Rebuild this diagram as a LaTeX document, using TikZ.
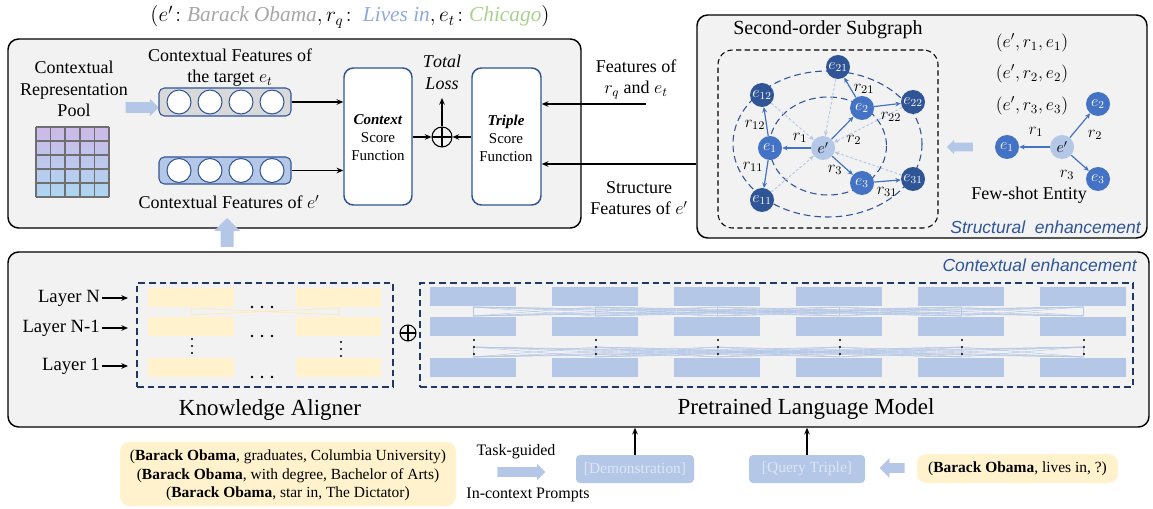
\documentclass[tikz,border=0pt]{standalone}
\usepackage{fix-cm}
\usepackage{fontspec}
\setmainfont{Liberation Serif}
\setsansfont{Liberation Sans}
\usetikzlibrary{arrows.meta,fit,shapes.arrows}

\definecolor{dblue}{HTML}{2F5597}
\definecolor{mblue}{HTML}{4472C4}
\definecolor{lblue}{HTML}{B4C7E7}
\definecolor{navy}{HTML}{203864}
\definecolor{paleyel}{HTML}{FFF2CC}
\definecolor{linkyel}{HTML}{FFE9B0}
\definecolor{panel}{HTML}{F2F2F2}
\definecolor{barg}{HTML}{D9D9D9}
\definecolor{gtxt}{HTML}{A6A6A6}
\definecolor{btxt}{HTML}{8FAADC}
\definecolor{grtxt}{HTML}{A9D18E}
\definecolor{ghost}{HTML}{DDE6F4}
\definecolor{gridln}{HTML}{6F6F6F}
\definecolor{poolA}{HTML}{CDB9E8}
\definecolor{poolB}{HTML}{ADD6F1}

\begin{document}
\begin{tikzpicture}[x=0.75pt,y=-0.75pt,
  txt/.style={font=\fontsize{13.5}{16}\selectfont, align=center, inner sep=0pt},
  small/.style={font=\fontsize{11.25}{13.5}\selectfont, align=center, inner sep=0pt},
  prompt/.style={font=\fontsize{11.6}{13.9}\selectfont, align=center, inner sep=0pt},
  big/.style={font=\fontsize{17.25}{20}\selectfont, inner sep=0pt},
  tag/.style={font=\sffamily\itshape\fontsize{13.1}{15}\selectfont, text=dblue, inner sep=0pt},
  panelbox/.style={draw=black, line width=1.1pt, fill=panel, rounded corners=8pt, inner sep=0pt},
  scorebox/.style={draw=dblue, line width=1.1pt, fill=white, rounded corners=7pt, inner sep=0pt},
  featbar/.style={draw=dblue, line width=0.8pt, rounded corners=4pt, inner sep=0pt},
  unit/.style={circle, draw=dblue, line width=0.8pt, fill=white, minimum size=24*0.75pt, inner sep=0pt},
  arr/.style={-{Stealth[length=5pt,width=4.2pt]}, line width=0.9pt},
  oplus/.style={circle, draw, line width=0.8pt, inner sep=0pt,
     path picture={\draw[line width=0.8pt] (path picture bounding box.north) -- (path picture bounding box.south)
       (path picture bounding box.west) -- (path picture bounding box.east);}},
  ent/.style={circle, minimum size=24*0.75pt, inner sep=0pt, text=white, font=\fontsize{12}{12}\selectfont},
  hub/.style={ent, fill=lblue, text=black},
  first/.style={ent, fill=mblue},
  second/.style={ent, fill=dblue},
  sedge/.style={-{Stealth[length=4pt,width=3.6pt]}, draw=mblue, line width=0.9pt},
  fedge/.style={-{Stealth[length=3.5pt,width=3.2pt]}, draw=lblue, line width=0.7pt, dash pattern=on 2pt off 1.5pt},
  rel/.style={font=\fontsize{12.5}{12.5}\selectfont, inner sep=0pt},
  ring/.style={draw=dblue, line width=0.8pt, dash pattern=on 5pt off 3pt},
  areabox/.style={draw=navy, line width=1.4pt, dash pattern=on 5pt off 3pt, inner sep=0pt},
  yblock/.style={fill=paleyel, inner sep=0pt},
  pblock/.style={fill=lblue, inner sep=0pt},
  plmlink/.style={draw=lblue, line width=0.35pt},
  kalink/.style={draw=linkyel, line width=0.5pt},
  blk/.style={single arrow, fill=lblue, draw=none, inner xsep=0pt, anchor=center},
  ghostbox/.style={fill=lblue, rounded corners=3pt, inner sep=0pt},
  yelbox/.style={fill=paleyel, rounded corners=7pt, inner sep=0pt}
]
\useasboundingbox (0,0) rectangle (1153,509);

% ---------------- title triple ----------------
\node[inner sep=0pt, font=\fontsize{16}{18}\selectfont] (title) at (350,17)
  {$(e'\!:\textcolor{gtxt}{\mathit{Barack\ Obama}}, r_q\!:\ \textcolor{btxt}{\mathit{Lives\ in}}, e_t\!:\textcolor{grtxt}{\mathit{Chicago}})$};

% ---------------- scoring panel ----------------
\node[panelbox, fit={(8,39)(581,228)}] (scorepanel) {};

\node[txt] (pooltxt) at (74,89) {Contextual\\Representation\\Pool};
\shade[top color=poolA, bottom color=poolB] (36,127) rectangle (109,197);
\foreach \i in {0,...,5} {
  \draw[gridln, line width=1.1pt] ({36+\i*14.6},127) -- ({36+\i*14.6},197);
  \draw[gridln, line width=1.1pt] (36,{127+\i*14}) -- (109,{127+\i*14});
}
\node[blk, minimum height=33*0.75pt, inner ysep=5*0.75pt, single arrow head extend=3.5*0.75pt] (poolarrow) at (139.5,107.5) {};

\node[featbar, fill=barg, fit={(159,88)(291,116)}] (tgtbar) {};
\node[featbar, fill=lblue, fit={(159,157)(291,184)}] (srcbar) {};
\foreach \x [count=\k] in {179,210,241,272} {
  \node[unit] (tu\k) at (\x,102) {};
  \node[unit] (su\k) at (\x,170.5) {};
}
\node[txt] (tgtlbl) at (230,67.5) {Contextual Features of\\the target $e_t$};
\node[txt] (srclbl) at (229,202) {Contextual Features of $e'$};

\node[scorebox, fit={(344,68)(412,205)}] (ctx) {};
\node[small] (ctxtxt) at (378,138) {\textbf{\textit{Context}}\\Score\\Function};
\node[scorebox, fit={(472,68)(541,205)}] (trp) {};
\node[small] (trptxt) at (506,138) {\textbf{\textit{Triple}}\\Score\\Function};

\node[oplus, minimum size=20*0.75pt] (plus) at (442,137) {};
\node[txt] (losstxt) at (442,72.5) {$\mathit{Total}$\\$\mathit{Loss}$};
\coordinate (lossend) at (442,98);

\draw[arr] (tgtbar.east) -- (tgtbar.east -| ctx.west);
\draw[arr] (srcbar.east) -- (srcbar.east -| ctx.west);
\draw[arr] (ctx.east |- plus.west) -- (plus.west);
\draw[arr] (trp.west |- plus.east) -- (plus.east);
\draw[arr] (plus.north) -- (lossend);

% ---------------- structural panel ----------------
\node[panelbox, fit={(697,15)(1147,238)}] (sgpanel) {};
\node[inner sep=0pt, font=\fontsize{15}{17}\selectfont] (sgtitle) at (828,30) {Second-order Subgraph};
\node[draw, line width=0.8pt, dash pattern=on 4pt off 2.5pt, rounded corners=11pt, inner sep=0pt, fit={(718,50)(938,228)}] (sgbox) {};

\draw[ring] (827.5,144) ellipse [x radius=94.5, y radius=73];
\draw[ring] (828,146) ellipse [x radius=58.5, y radius=49];

\node[hub] (np) at (823,148) {$e'$};
\node[first] (n1) at (770,148) {$e_1$};
\node[first] (n2) at (862,108) {$e_2$};
\node[first] (n3) at (862,183) {$e_3$};
\node[second] (n12) at (762,95) {$e_{12}$};
\node[second] (n11) at (762,200) {$e_{11}$};
\node[second] (n21) at (838,67) {$e_{21}$};
\node[second] (n22) at (913,102) {$e_{22}$};
\node[second] (n31) at (913,179) {$e_{31}$};

\foreach \s in {n12,n21,n22,n31,n11} \draw[fedge] (\s) -- (np);
\draw[sedge] (np) -- (n1);
\draw[sedge] (np) -- (n2);
\draw[sedge] (np) -- (n3);
\draw[sedge] (n1) -- (n12);
\draw[sedge] (n1) -- (n11);
\draw[sedge] (n2) -- (n21);
\draw[sedge] (n2) -- (n22);
\draw[sedge] (n3) -- (n31);

\node[rel] (lr1) at (800,138) {$r_1$};
\node[rel] (lr2) at (854,140) {$r_2$};
\node[rel] (lr3) at (835,170) {$r_3$};
\node[rel] (lr12) at (755,125) {$r_{12}$};
\node[rel] (lr11) at (753,167) {$r_{11}$};
\node[rel] (lr21) at (864,89) {$r_{21}$};
\node[rel] (lr22) at (891,117) {$r_{22}$};
\node[rel] (lr31) at (887,192) {$r_{31}$};

\node[txt] (trip1) at (1032,43) {$(e', r_1, e_1)$};
\node[txt] (trip2) at (1032,74) {$(e', r_2, e_2)$};
\node[txt] (trip3) at (1032,106) {$(e', r_3, e_3)$};

\node[hub] (fp) at (1062,147) {$e'$};
\node[first] (f1) at (1007,147) {$e_1$};
\node[first] (f2) at (1098,104) {$e_2$};
\node[first] (f3) at (1098,179) {$e_3$};
\draw[sedge] (fp) -- (f1);
\draw[sedge] (fp) -- (f2);
\draw[sedge] (fp) -- (f3);
\node[rel] (fr1) at (1036,132) {$r_1$};
\node[rel] (fr2) at (1095,135) {$r_2$};
\node[rel] (fr3) at (1067,175) {$r_3$};
\node[txt] (fewtxt) at (1029,195) {Few-shot Entity};
\node[blk, shape border rotate=180, minimum height=26*0.75pt, inner ysep=4*0.75pt, single arrow head extend=3*0.75pt] (sgarrow) at (962,147) {};
\node[tag, anchor=east] (structtag) at (1141,227) {Structural\ \ enhancement};

% feature links from the structural panel
\node[txt] (relfeat) at (636,79) {Features of\\$r_q$ and $e_t$};
\node[txt] (strfeat) at (639,198) {Structure\\Features of $e'$};
\coordinate (featin) at (646,104);
\coordinate (structin) at (sgpanel.west |- 0,164);
\draw[arr] (featin) -- (featin -| trp.east);
\draw[arr] (structin) -- (structin -| trp.east);

% ---------------- contextual panel ----------------
\node[panelbox, fit={(8,252)(1149,427)}] (plmpanel) {};
% upward block arrow feeding the scoring panel
\fill[lblue] (220.5,247) -- (220.5,231) -- (214,231) -- (227,218) -- (240,231) -- (233.5,231) -- (233.5,247) -- cycle;
\node[tag, anchor=east] (ctxtag) at (1137,265) {Contextual enhancement};

% knowledge aligner
\node[areabox, fit={(137,283)(393,387)}] (kabox) {};
\foreach \r/\a/\b in {1/288/307,2/317/336,3/358/377} {
  \node[yblock, fit={(148,\a)(234,\b)}] (ka\r a) {};
  \node[yblock, fit={(296,\a)(381,\b)}] (ka\r b) {};
}
\draw[kalink] (191,308) -- (191,315) (339,308) -- (339,315) (191,308) -- (339,315) (339,308) -- (191,315);
\foreach \y in {307,336,377} \foreach \x in {252,262,272} \fill (\x,\y) circle [radius=1.1pt];
\foreach \y in {339,346,353} \fill (192,\y) circle [radius=0.9pt];
\foreach \y in {342,349,356} \fill (341,\y) circle [radius=0.9pt];

\node[txt, font=\fontsize{14}{16}\selectfont, anchor=east] (layN) at (100,298) {Layer N};
\node[txt, font=\fontsize{14}{16}\selectfont, anchor=east] (layM) at (100,328) {Layer N-1};
\node[txt, font=\fontsize{14}{16}\selectfont, anchor=east] (lay1) at (100,366) {Layer 1};
\draw[arr] (layN.east) ++(2*0.75pt,0) -- (128,298);
\draw[arr] (layM.east) ++(2*0.75pt,0) -- (128,328);
\draw[arr] (lay1.east) ++(2*0.75pt,0) -- (128,366);

\node[big] (katxt) at (270,410) {Knowledge Aligner};

\node[oplus, minimum size=16*0.75pt] (mix) at (408,333) {};

% pretrained language model
\node[areabox, fit={(420,283)(1133,387)}] (plmbox) {};
\foreach \i in {0,...,5} {
  \foreach \j in {0,...,5} {
    \draw[plmlink] ({473+122*\i},307) -- ({473+122*\j},316);
    \draw[plmlink] ({473+122*\i},347) -- ({473+122*\j},357);
  }
}
\foreach \i in {0,...,5} {
  \foreach \r/\a/\b in {1/287/306,2/317/336,3/358/377} {
    \node[pblock, fit={({430+122*\i},\a)({516+122*\i},\b)}] (pl\r x\i) {};
  }
  \foreach \y in {340,347,354} \fill ({474+122*\i},\y) circle [radius=0.8pt];
}
\node[big] (plmtxt) at (806,409) {Pretrained Language Model};

% ---------------- prompt inputs ----------------
\node[yelbox, fit={(120,442)(456,506)}] (demos) {};
\node[prompt] (demotxt) at (288,475.5) {(\textbf{Barack Obama}, graduates, Columbia University)\\(\textbf{Barack Obama}, with degree, Bachelor of Arts)\\(\textbf{Barack Obama}, star in, The Dictator)};
\node[txt, font=\fontsize{12}{14}\selectfont] (tgtxt) at (516,452) {Task-guided};
\node[txt, font=\fontsize{12}{14}\selectfont] (ictxt) at (528,495) {In-context Prompts};
\node[blk, minimum height=48*0.75pt, inner ysep=4.5*0.75pt, single arrow head extend=3.5*0.75pt] (promptarrow) at (519,472) {};

\node[ghostbox, fit={(576,455)(694,483)}] (demo) {};
\node[prompt, text=ghost] (demolbl) at (demo.center) {[Demonstration]};
\node[ghostbox, fit={(749,455)(865,483)}] (query) {};
\node[prompt, text=ghost] (querylbl) at (query.center) {[Query Triple]};
\node[blk, shape border rotate=180, minimum height=25*0.75pt, inner ysep=4.5*0.75pt, single arrow head extend=5*0.75pt] (qarrow) at (894.5,468) {};
\node[yelbox, fit={(917,454)(1118,483)}] (qtriple) {};
\node[prompt] (qtxt) at (qtriple.center) {(\textbf{Barack Obama}, lives in, ?)};

\draw[arr] (demo.north) -- (demo.north |- plmpanel.south);
\draw[arr] (query.north) -- (query.north |- plmpanel.south);
\end{tikzpicture}
\end{document}
